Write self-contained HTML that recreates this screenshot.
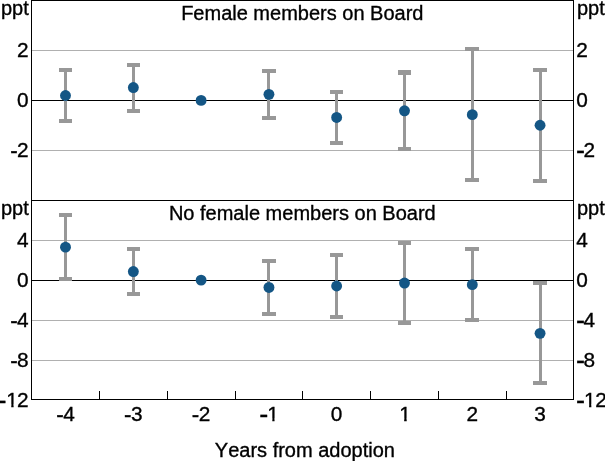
<!DOCTYPE html>
<html><head><meta charset="utf-8"><title>Chart</title>
<style>
html,body{margin:0;padding:0;background:#fff;}
svg{display:block;}
text{font-family:"Liberation Sans",sans-serif;font-size:20px;fill:#000;stroke:#000;stroke-width:0.35px;font-kerning:none;}
text.n{font-size:20.8px;}
</style></head><body>
<svg width="605" height="461" viewBox="0 0 605 461">
<rect width="605" height="461" fill="#fff"/>
<rect x="31" y="50" width="543" height="1" fill="#b0b0b0"/>
<rect x="31" y="150" width="543" height="1" fill="#b0b0b0"/>
<rect x="31" y="240" width="543" height="1" fill="#b0b0b0"/>
<rect x="31" y="320" width="543" height="1" fill="#b0b0b0"/>
<rect x="31" y="360" width="543" height="1" fill="#b0b0b0"/>
<rect x="31" y="100" width="543" height="1" fill="#000"/>
<rect x="31" y="280" width="543" height="1" fill="#000"/>
<path fill="#989898" d="M59 68H72V72H67V119H72V123H59V119H64V72H59Z"/>
<path fill="#989898" d="M127 63H140V67H135V109H140V113H127V109H132V67H127Z"/>
<path fill="#989898" d="M262 69H276V73H270V116H276V120H262V116H267V73H262Z"/>
<path fill="#989898" d="M330 90H343V94H338V141H343V145H330V141H335V94H330Z"/>
<path fill="#989898" d="M398 70H411V75H406V147H411V151H398V147H403V75H398Z"/>
<path fill="#989898" d="M465 47H479V51H474V178H479V182H465V178H471V51H465Z"/>
<path fill="#989898" d="M533 68H547V72H542V179H547V183H533V179H539V72H533Z"/>
<path fill="#989898" d="M59 213H72V217H67V277H72V281H59V277H64V217H59Z"/>
<path fill="#989898" d="M127 247H140V251H135V292H140V296H127V292H132V251H127Z"/>
<path fill="#989898" d="M262 259H276V263H270V312H276V316H262V312H267V263H262Z"/>
<path fill="#989898" d="M330 253H343V257H338V315H343V319H330V315H335V257H330Z"/>
<path fill="#989898" d="M398 241H411V245H406V321H411V325H398V321H403V245H398Z"/>
<path fill="#989898" d="M465 247H479V251H474V318H479V322H465V318H471V251H465Z"/>
<path fill="#989898" d="M533 281H547V285H542V381H547V385H533V381H539V285H533Z"/>
<circle cx="65.5" cy="95.5" r="5.45" fill="#145685"/>
<circle cx="133.35" cy="87.55" r="5.45" fill="#145685"/>
<circle cx="201.1" cy="100.4" r="5.45" fill="#145685"/>
<circle cx="268.95" cy="94.35" r="5.45" fill="#145685"/>
<circle cx="336.65" cy="117.45" r="5.45" fill="#145685"/>
<circle cx="404.5" cy="110.8" r="5.45" fill="#145685"/>
<circle cx="472.3" cy="114.65" r="5.45" fill="#145685"/>
<circle cx="540.06" cy="125.25" r="5.45" fill="#145685"/>
<circle cx="65.5" cy="247.15" r="5.45" fill="#145685"/>
<circle cx="133.35" cy="271.55" r="5.45" fill="#145685"/>
<circle cx="201.1" cy="280.15" r="5.45" fill="#145685"/>
<circle cx="268.95" cy="287.45" r="5.45" fill="#145685"/>
<circle cx="336.65" cy="286.0" r="5.45" fill="#145685"/>
<circle cx="404.5" cy="283.05" r="5.45" fill="#145685"/>
<circle cx="472.3" cy="284.65" r="5.45" fill="#145685"/>
<circle cx="540.06" cy="333.35" r="5.45" fill="#145685"/>
<rect x="31" y="0" width="543" height="1" fill="#000"/>
<rect x="31" y="200" width="543" height="1" fill="#000"/>
<rect x="31" y="399" width="543" height="1" fill="#000"/>
<rect x="31" y="0" width="1" height="400" fill="#000"/>
<rect x="573" y="0" width="1" height="400" fill="#000"/>
<rect x="99" y="391" width="1" height="8" fill="#000"/>
<rect x="167" y="391" width="1" height="8" fill="#000"/>
<rect x="235" y="391" width="1" height="8" fill="#000"/>
<rect x="302" y="391" width="1" height="8" fill="#000"/>
<rect x="370" y="391" width="1" height="8" fill="#000"/>
<rect x="438" y="391" width="1" height="8" fill="#000"/>
<rect x="506" y="391" width="1" height="8" fill="#000"/>
<text x="0.9" y="14.5" text-anchor="start">ppt</text>
<text x="577.0" y="14.5" text-anchor="start">ppt</text>
<text x="0.9" y="214.5" text-anchor="start">ppt</text>
<text x="577.0" y="214.5" text-anchor="start">ppt</text>
<text x="28.7" y="57" text-anchor="end" class="n">2</text>
<text x="576.3" y="57" text-anchor="start" class="n">2</text>
<text x="28.7" y="107" text-anchor="end" class="n">0</text>
<text x="576.3" y="107" text-anchor="start" class="n">0</text>
<text x="28.7" y="157" text-anchor="end" class="n"><tspan font-size="22.4" dy="0.65">-</tspan><tspan dy="-0.65" dx="-0.55">2</tspan></text>
<text x="576.05" y="157" text-anchor="start" class="n"><tspan font-size="27" dy="1.55">-</tspan><tspan dy="-1.55" dx="-1.5">2</tspan></text>
<text x="28.7" y="247" text-anchor="end" class="n">4</text>
<text x="576.3" y="247" text-anchor="start" class="n">4</text>
<text x="28.7" y="287" text-anchor="end" class="n">0</text>
<text x="576.3" y="287" text-anchor="start" class="n">0</text>
<text x="28.7" y="327" text-anchor="end" class="n"><tspan font-size="22.4" dy="0.65">-</tspan><tspan dy="-0.65" dx="-0.55">4</tspan></text>
<text x="576.05" y="327" text-anchor="start" class="n"><tspan font-size="27" dy="1.55">-</tspan><tspan dy="-1.55" dx="-1.5">4</tspan></text>
<text x="28.7" y="367" text-anchor="end" class="n"><tspan font-size="22.4" dy="0.65">-</tspan><tspan dy="-0.65" dx="-0.55">8</tspan></text>
<text x="576.05" y="367" text-anchor="start" class="n"><tspan font-size="27" dy="1.55">-</tspan><tspan dy="-1.55" dx="-1.5">8</tspan></text>
<text x="28.7" y="407" text-anchor="end" class="n"><tspan font-size="27" dy="1.55">-</tspan><tspan dy="-1.55" dx="-0.2">1</tspan><tspan dx="-0.8">2</tspan></text>
<text x="576.05" y="407" text-anchor="start" class="n"><tspan font-size="27" dy="1.55">-</tspan><tspan dy="-1.55" dx="-1">1</tspan><tspan dx="-0.4">2</tspan></text>
<text x="65.5" y="421" text-anchor="middle" class="n"><tspan font-size="22.4" dy="0.65">-</tspan><tspan dy="-0.65" dx="-0.55">4</tspan></text>
<text x="133.35" y="421" text-anchor="middle" class="n"><tspan font-size="22.4" dy="0.65">-</tspan><tspan dy="-0.65" dx="-0.55">3</tspan></text>
<text x="201.1" y="421" text-anchor="middle" class="n"><tspan font-size="22.4" dy="0.65">-</tspan><tspan dy="-0.65" dx="-0.55">2</tspan></text>
<text x="268.95" y="421" text-anchor="middle" class="n"><tspan font-size="27" dy="1.55">-</tspan><tspan dy="-1.55" dx="-1">1</tspan></text>
<text x="336.65" y="421" text-anchor="middle" class="n">0</text>
<text x="405.0" y="421" text-anchor="middle" class="n">1</text>
<text x="472.3" y="421" text-anchor="middle" class="n">2</text>
<text x="540.06" y="421" text-anchor="middle" class="n">3</text>
<text x="302.3" y="20.4" text-anchor="middle">Female members on Board</text>
<text x="302.3" y="220.4" text-anchor="middle">No female members on Board</text>
<text x="304.9" y="456.9" text-anchor="middle">Years from adoption</text>
<rect x="267.5" y="418.5" width="4.80" height="3.50" fill="#fff"/>
<rect x="274.55" y="418.5" width="3.95" height="3.50" fill="#fff"/>
<rect x="400.0" y="418.5" width="4.15" height="3.50" fill="#fff"/>
<rect x="406.7" y="418.5" width="4.30" height="3.50" fill="#fff"/>
<rect x="6.0" y="404.5" width="5.25" height="3.50" fill="#fff"/>
<rect x="13.6" y="404.5" width="3.40" height="3.50" fill="#fff"/>
<rect x="584.5" y="404.5" width="4.60" height="3.50" fill="#fff"/>
<rect x="591.35" y="404.5" width="3.65" height="3.50" fill="#fff"/>
</svg>
</body></html>
